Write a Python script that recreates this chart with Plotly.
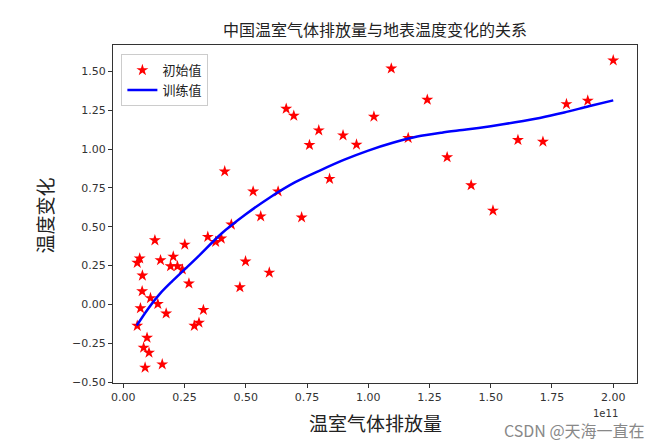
import plotly.graph_objects as go

# x values in units of 1e11
SCALE_LABEL = "1e11"
emission = [2.000, 1.094, 1.241, 1.023, 0.897, 0.952, 1.163, 1.322, 1.420, 1.509,
            1.611, 1.713, 1.809, 1.896, 0.665, 0.696, 0.798, 0.760, 0.414, 0.842,
            0.530, 0.632, 0.561, 0.728, 0.441, 0.345, 0.377, 0.400, 0.129, 0.251,
            0.067, 0.057, 0.152, 0.204, 0.193, 0.221, 0.241, 0.499, 0.596, 0.078,
            0.268, 0.476, 0.077, 0.111, 0.141, 0.070, 0.175, 0.327, 0.057, 0.290,
            0.309, 0.097, 0.083, 0.105, 0.159, 0.089]
temp_change = [1.570, 1.518, 1.317, 1.208, 1.088, 1.028, 1.071, 0.947, 0.767, 0.604,
               1.058, 1.047, 1.289, 1.311, 1.259, 1.214, 1.120, 1.026, 0.856, 0.808,
               0.727, 0.727, 0.567, 0.560, 0.514, 0.435, 0.403, 0.424, 0.413, 0.385,
               0.296, 0.268, 0.285, 0.308, 0.246, 0.246, 0.225, 0.277, 0.205, 0.186,
               0.135, 0.111, 0.085, 0.041, 0.003, -0.024, -0.058, -0.035, -0.137, -0.137,
               -0.117, -0.214, -0.278, -0.310, -0.385, -0.406]

fit_x = [0.055, 0.10, 0.15, 0.20, 0.30, 0.40, 0.50, 0.60, 0.70, 0.80, 0.90, 1.00,
         1.10, 1.20, 1.30, 1.40, 1.50, 1.60, 1.70, 1.80, 1.90, 2.00]
fit_y = [-0.135, -0.030, 0.070, 0.150, 0.300, 0.455, 0.580, 0.690, 0.785, 0.860, 0.930, 0.990,
         1.040, 1.080, 1.105, 1.125, 1.147, 1.172, 1.200, 1.235, 1.275, 1.313]

x_ticks = [0.0, 0.25, 0.5, 0.75, 1.0, 1.25, 1.5, 1.75, 2.0]
y_ticks = [-0.5, -0.25, 0.0, 0.25, 0.5, 0.75, 1.0, 1.25, 1.5]

CJK = "Noto Sans CJK SC"

fig = go.Figure()
fig.add_trace(go.Scatter(
    x=emission, y=temp_change, mode="markers", name="初始值",
    marker=dict(symbol="star", size=9, color="red", line=dict(width=0)),
))
fig.add_trace(go.Scatter(
    x=fit_x, y=fit_y, mode="lines", name="训练值",
    line=dict(color="blue", width=2.5, shape="spline", smoothing=0.8),
))

axis_common = dict(
    showgrid=False, zeroline=False, showline=True, linecolor="#333", linewidth=1,
    mirror=True, ticks="outside", ticklen=4, tickcolor="#333",
    tickfont=dict(family="DejaVu Sans", size=11, color="#333"),
    tickformat=".2f",
)
fig.update_xaxes(range=[-0.042, 2.097], tickvals=x_ticks, **axis_common)
fig.update_yaxes(range=[-0.505, 1.669], tickvals=y_ticks, **axis_common)

fig.update_layout(
    width=665, height=448,
    margin=dict(l=113, r=28, t=45, b=65),
    paper_bgcolor="white", plot_bgcolor="white",
    title=dict(text="中国温室气体排放量与地表温度变化的关系", x=0.5, xref="paper",
               y=1 - 30.7 / 448, yanchor="middle",
               font=dict(family=CJK, size=16, color="#222")),
    legend=dict(x=0.016, y=0.973, xanchor="left", yanchor="top",
                bgcolor="white", bordercolor="#ccc", borderwidth=1,
                font=dict(family=CJK, size=13, color="#222")),
    showlegend=True,
    annotations=[
        dict(text="温室气体排放量", xref="paper", yref="paper", x=0.5, y=-0.117,
             showarrow=False, yanchor="middle",
             font=dict(family=CJK, size=19, color="#222")),
        dict(text="温度变化", xref="paper", yref="paper", x=-0.1305, y=0.4945,
             showarrow=False, textangle=-90, xanchor="center", yanchor="middle",
             font=dict(family=CJK, size=19, color="#222")),
        dict(text=SCALE_LABEL, xref="paper", yref="paper", x=0.968, y=-0.09,
             showarrow=False, yanchor="middle",
             font=dict(family="DejaVu Sans", size=10, color="#333")),
        dict(text="CSDN @天海一直在", xref="paper", yref="paper", x=1.02, y=-0.14,
             xanchor="right", showarrow=False, yanchor="middle",
             font=dict(family=CJK, size=16, color="#888")),
    ],
)

fig.write_html("out.html")
